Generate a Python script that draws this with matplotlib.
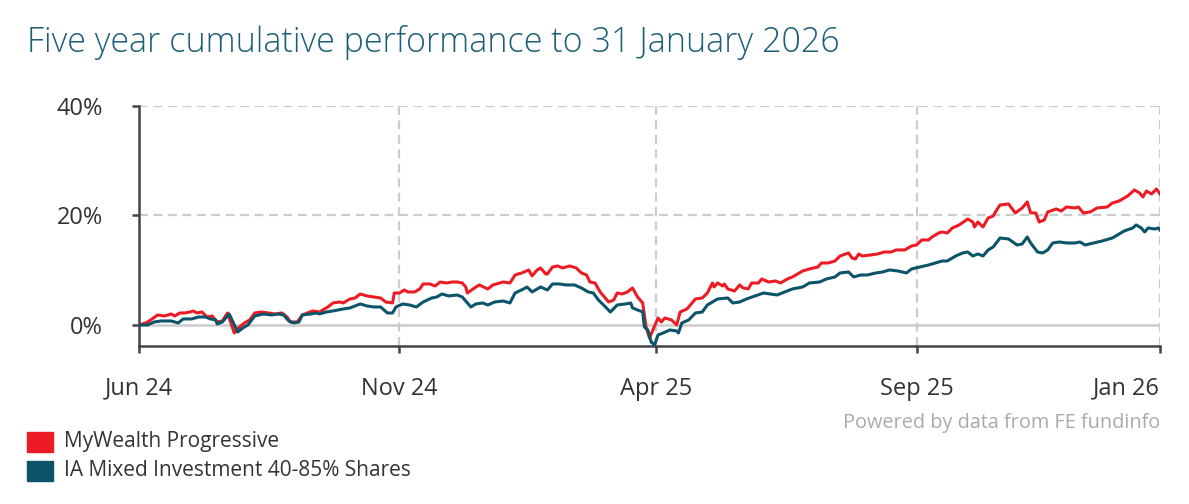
import matplotlib
matplotlib.use("Agg")
import matplotlib.pyplot as plt
import numpy as np

plt.rcParams['font.family'] = ['Open Sans', 'DejaVu Sans']

title = "Five year cumulative performance to 31 January 2026"
start_date = np.datetime64('2024-06-10')

# days since 10 Jun 2024, cumulative % return
fund_days = [0, 4, 6, 11, 15, 19, 21, 24, 27, 30, 32, 34, 37, 40, 43, 46, 49, 52, 56, 59,
             62, 65, 68, 72, 76, 80, 84, 87, 89, 93, 96, 99, 102, 106, 111, 114, 118, 120, 124, 127,
             130, 134, 138, 142, 145, 149, 150, 153, 156, 158, 162, 165, 167, 171, 174, 177, 181, 184, 187, 190,
             192, 193, 198, 200, 205, 208, 212, 214, 218, 221, 225, 229, 231, 234, 236, 239, 240, 243, 246, 249,
             253, 257, 260, 263, 265, 268, 271, 276, 279, 281, 284, 287, 290, 293, 296, 298, 300, 304, 305, 307,
             309, 313, 316, 318, 322, 324, 327, 331, 334, 337, 338, 340, 343, 344, 346, 350, 353, 355, 358, 360,
             364, 366, 370, 374, 377, 381, 384, 387, 390, 394, 399, 401, 405, 409, 412, 417, 419, 421, 423, 425,
             430, 434, 438, 442, 445, 450, 454, 457, 460, 464, 466, 470, 472, 475, 478, 482, 487, 490, 491, 493,
             496, 499, 502, 504, 506, 511, 515, 519, 522, 524, 527, 529, 532, 534, 539, 542, 545, 550, 552, 555,
             559, 563, 569, 572, 576, 581, 585, 588, 590, 592, 595, 598, 600]
fund_pct = [0.0, 0.37, 0.73, 1.83, 1.64, 2.01, 1.64, 2.19, 2.19, 2.37, 2.56, 2.19, 2.37, 1.46, 1.64, 0.55, 0.73, 2.19, -1.46, -0.37,
            0.37, 0.91, 2.19, 2.37, 2.19, 2.01, 2.19, 1.46, 0.55, 0.55, 1.83, 2.19, 2.56, 2.37, 3.29, 4.02, 4.20, 4.02, 4.75, 4.93,
            5.66, 5.30, 5.11, 4.93, 4.20, 4.02, 5.84, 5.84, 6.39, 6.03, 6.03, 6.58, 7.49, 7.49, 7.12, 7.85, 7.67, 7.85, 7.85, 7.67,
            6.94, 5.84, 6.94, 7.31, 6.58, 7.31, 7.67, 7.85, 7.67, 9.13, 9.50, 10.05, 8.95, 10.05, 10.41, 9.32, 9.32, 10.59, 10.78, 10.41,
            10.78, 10.41, 9.50, 9.13, 7.85, 7.67, 6.03, 4.20, 4.57, 5.84, 5.66, 6.03, 6.76, 5.11, 4.02, -0.37, -2.37, 0.55, 1.28, 0.55,
            1.28, 0.91, 0.0, 2.37, 2.92, 3.65, 4.75, 4.93, 5.84, 7.67, 6.94, 7.67, 7.12, 7.49, 6.58, 6.21, 7.31, 6.76, 6.58, 7.67,
            7.67, 8.40, 7.85, 8.04, 7.67, 8.40, 8.77, 9.32, 9.86, 10.23, 10.59, 11.32, 11.32, 11.69, 12.60, 13.15, 12.24, 12.05, 12.97, 12.60,
            12.79, 12.97, 13.33, 13.33, 13.70, 13.70, 14.43, 14.61, 15.53, 15.53, 16.07, 16.80, 16.99, 16.80, 17.72, 18.27, 19.36, 18.81, 17.90, 18.81,
            17.90, 19.54, 19.91, 21.00, 21.92, 22.10, 20.46, 21.37, 22.47, 20.46, 20.46, 18.81, 19.18, 20.64, 21.19, 20.82, 21.55, 21.37, 21.55, 20.46,
            20.64, 21.37, 21.55, 22.28, 22.65, 23.56, 24.66, 24.11, 23.38, 24.47, 23.93, 24.84, 23.93]

sector_days = [0, 5, 9, 13, 19, 23, 26, 31, 35, 39, 42, 45, 46, 49, 53, 58, 61, 64, 68, 73,
               78, 82, 85, 88, 91, 94, 96, 101, 104, 106, 110, 114, 120, 124, 130, 134, 138, 142, 146, 149,
               151, 155, 159, 163, 167, 172, 175, 178, 182, 187, 190, 193, 195, 198, 202, 205, 209, 214, 218, 221,
               226, 228, 231, 236, 240, 243, 247, 251, 256, 260, 264, 267, 270, 273, 277, 281, 286, 289, 290, 296,
               297, 299, 301, 303, 305, 308, 312, 316, 317, 319, 323, 327, 331, 334, 340, 346, 349, 353, 357, 362,
               367, 371, 375, 378, 384, 390, 394, 400, 404, 409, 412, 417, 420, 424, 428, 433, 437, 441, 446, 451,
               454, 459, 464, 468, 472, 475, 480, 484, 487, 490, 493, 496, 499, 502, 506, 511, 516, 519, 522, 524,
               528, 531, 534, 537, 541, 545, 550, 553, 556, 561, 566, 572, 575, 579, 584, 586, 589, 591, 593, 597,
               599, 600]
sector_pct = [0.0, 0.0, 0.55, 0.73, 0.73, 0.37, 1.10, 1.10, 1.46, 1.46, 1.10, 0.91, 0.18, 0.55, 2.01, -1.28, -0.55, 0.0, 1.64, 2.01,
              1.83, 2.01, 1.83, 0.73, 0.37, 0.55, 1.83, 2.01, 2.19, 2.01, 2.37, 2.56, 2.92, 3.11, 3.84, 3.47, 3.29, 3.29, 2.19, 2.19,
              3.29, 3.84, 3.65, 3.29, 4.20, 4.93, 5.11, 5.66, 5.30, 5.48, 5.11, 4.02, 3.29, 3.84, 4.02, 3.65, 4.20, 4.38, 4.02, 5.84,
              6.58, 6.94, 6.03, 6.94, 6.39, 7.49, 7.49, 7.31, 7.31, 6.76, 6.03, 5.84, 4.57, 3.65, 2.37, 3.65, 3.84, 4.02, 3.11, 2.37,
              -0.37, -0.91, -3.11, -3.65, -1.83, -1.46, -0.91, -1.10, -1.46, 0.37, 0.91, 2.19, 2.37, 3.65, 4.75, 4.93, 4.02, 4.20, 4.75, 5.30,
              5.84, 5.66, 5.48, 5.84, 6.58, 6.94, 7.67, 7.85, 8.40, 8.77, 9.50, 9.68, 8.77, 9.13, 9.13, 9.50, 9.68, 10.05, 9.86, 9.50,
              10.23, 10.59, 10.96, 11.32, 11.69, 11.69, 12.60, 13.15, 13.33, 12.60, 12.97, 12.60, 13.70, 14.25, 15.89, 15.71, 14.61, 14.79, 16.07, 14.98,
              13.33, 13.15, 13.70, 14.98, 15.16, 14.98, 14.98, 15.16, 14.61, 14.98, 15.34, 15.89, 16.44, 17.17, 17.72, 18.27, 17.72, 16.99, 17.72, 17.53,
              17.72, 17.35]

series_names = ["MyWealth Progressive", "IA Mixed Investment 40-85% Shares"]
series_colors = ["#ed1c24", "#0b5469"]

tick_dates = ['2024-06-10', '2024-11-10', '2025-04-10', '2025-09-10', '2026-01-31']
tick_labels = ['Jun 24', 'Nov 24', 'Apr 25', 'Sep 25', 'Jan 26']
y_ticks = [0, 20, 40]
y_labels = ['0%', '20%', '40%']

fund_x = start_date + np.array(fund_days, dtype='timedelta64[D]')
sector_x = start_date + np.array(sector_days, dtype='timedelta64[D]')
tick_x = np.array(tick_dates, dtype='datetime64[D]')

fig = plt.figure(figsize=(11.89, 5.04), dpi=100)
ax = fig.add_axes([0.1169, 0.3135, 0.8587, 0.4762])

grid_col = '#cccccc'
dash = (0, (4, 2.5))
for yv in y_ticks[1:]:
    ax.axhline(yv, color=grid_col, lw=1.6, ls=dash, zorder=1)
for xv in tick_x[1:]:
    ax.axvline(xv, color=grid_col, lw=1.6, ls=dash, zorder=1)
ax.axhline(0, color=grid_col, lw=1.8, zorder=1)

ax.plot(fund_x, fund_pct, color=series_colors[0], lw=2.2, zorder=3)
ax.plot(sector_x, sector_pct, color=series_colors[1], lw=2.2, zorder=4)

ax.set_xlim(tick_x[0], tick_x[-1])
ax.set_ylim(-3.84, 40)

for s in ['top', 'right']:
    ax.spines[s].set_visible(False)
for s in ['left', 'bottom']:
    ax.spines[s].set_color('#444444')
    ax.spines[s].set_linewidth(1.8)

ax.set_yticks(y_ticks)
ax.set_yticklabels(y_labels)
ax.set_xticks(tick_x)
ax.set_xticklabels(tick_labels)
ax.get_xticklabels()[-1].set_horizontalalignment('right')
ax.tick_params(axis='both', colors='#444444', width=1.8, length=5,
               labelsize=17, labelcolor='#333333')
ax.tick_params(axis='y', pad=21)
ax.tick_params(axis='x', pad=17)

fig.text(27 / 1189, 1 - 42 / 504, title, fontsize=24.5, color='#1d5f78',
         ha='left', va='center', fontweight='light')

fig.text(1160 / 1189, 1 - 423 / 504, "Powered by data from FE fundinfo",
         fontsize=14.3, color='#aaaaaa', ha='right', va='center')

for i, (name, col) in enumerate(zip(series_names, series_colors)):
    yc = 1 - (442 + 29 * i) / 504
    fig.patches.append(plt.Rectangle((27 / 1189, yc - 10 / 504), 26 / 1189, 20 / 504,
                                     transform=fig.transFigure, color=col, figure=fig))
    fig.text(64 / 1189, yc, name, fontsize=15, color='#333333', ha='left', va='center')

fig.savefig('out.png', dpi=100)
